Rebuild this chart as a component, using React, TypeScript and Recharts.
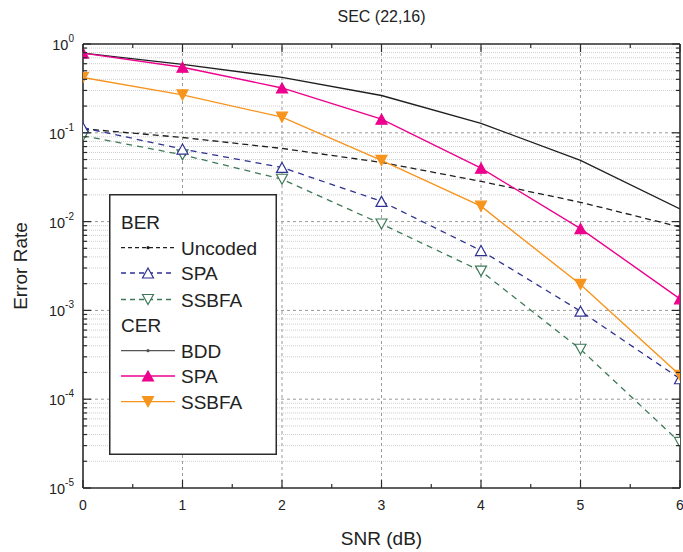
import React from 'react';
import { ComposedChart, Line, XAxis, YAxis, ReferenceLine } from 'recharts';

const snr = [0, 1, 2, 3, 4, 5, 6];
const berUncoded = [0.111, 0.0886, 0.0667, 0.0464, 0.0284, 0.0165, 0.0087];
const berSPA = [0.114, 0.0656, 0.0407, 0.0169, 0.00472, 0.00098, 0.00017];
const berSSBFA = [0.0925, 0.0566, 0.03, 0.0094, 0.00277, 0.000365, 0.0000326];
const cerBDD = [0.79, 0.59, 0.42, 0.263, 0.128, 0.0489, 0.0139];
const cerSPA = [0.79, 0.547, 0.32, 0.1425, 0.04, 0.00834, 0.00135];
const cerSSBFA = [0.42, 0.267, 0.15, 0.0489, 0.0149, 0.00196, 0.000186];

const yMajor = [1e-5, 1e-4, 1e-3, 1e-2, 1e-1, 1];
const yMantissas = [2, 3, 4, 5, 6, 7, 8, 9];
const xMajor = [0, 1, 2, 3, 4, 5, 6];
const xMinor = [0.5, 1.5, 2.5, 3.5, 4.5, 5.5];

const yMinor: number[] = [];
yMajor.slice(0, 5).forEach((d) => yMantissas.forEach((m) => yMinor.push(m * d)));
const yTicks = [...yMajor, ...yMinor].sort((a, b) => a - b);
const xTicks = [...xMajor, ...xMinor].sort((a, b) => a - b);

const rows = snr.map((x, i) => ({
  snr: x,
  berUncoded: berUncoded[i],
  berSPA: berSPA[i],
  berSSBFA: berSSBFA[i],
  cerBDD: cerBDD[i],
  cerSPA: cerSPA[i],
  cerSSBFA: cerSSBFA[i],
}));

const FONT = '"Liberation Sans", Arial, Helvetica, sans-serif';
const AX = '#2b2b2b';
const C_BLUE = '#2E3192';
const C_GREEN = '#3F7A58';
const C_PINK = '#EC008C';
const C_ORANGE = '#F7941D';
const C_BLACK = '#1e1e1e';

const isMajorY = (v: number) => Math.abs(Math.log10(v) - Math.round(Math.log10(v))) < 1e-6;

const LeftTick = (p: any) => {
  const { x, y, payload } = p;
  const v = payload.value;
  const major = isMajorY(v);
  const e = Math.round(Math.log10(v));
  return (
    <g>
      <line x1={x} x2={x + (major ? 8 : 4)} y1={y} y2={y} stroke={AX} strokeWidth={1.2} />
      {major && (
        <text x={x - 9} y={y + 6} textAnchor="end" fontSize={14.5} fill="#222" fontFamily={FONT}>
          10<tspan dy={-8} fontSize={10}>{e}</tspan>
        </text>
      )}
    </g>
  );
};

const RightTick = (p: any) => {
  const { x, y, payload } = p;
  const major = isMajorY(payload.value);
  return <line x1={x} x2={x - (major ? 8 : 4)} y1={y} y2={y} stroke={AX} strokeWidth={1.2} />;
};

const BottomTick = (p: any) => {
  const { x, y, payload } = p;
  const v = payload.value;
  const major = Number.isInteger(v);
  return (
    <g>
      <line x1={x} x2={x} y1={y} y2={y - (major ? 8 : 4)} stroke={AX} strokeWidth={1.2} />
      {major && (
        <text x={x} y={y + 22} textAnchor="middle" fontSize={14} fill="#222" fontFamily={FONT}>
          {v}
        </text>
      )}
    </g>
  );
};

const TopTick = (p: any) => {
  const { x, y, payload } = p;
  const major = Number.isInteger(payload.value);
  return <line x1={x} x2={x} y1={y} y2={y + (major ? 8 : 4)} stroke={AX} strokeWidth={1.2} />;
};

const tri = (up: boolean, cx: number, cy: number) =>
  up
    ? `M${cx},${cy - 5} L${cx + 5.5},${cy + 5} L${cx - 5.5},${cy + 5} Z`
    : `M${cx},${cy + 5} L${cx + 5.5},${cy - 5} L${cx - 5.5},${cy - 5} Z`;

const makeDot = (up: boolean, color: string, filled: boolean) => (p: any) => {
  const { cx, cy, index } = p;
  if (cx == null || cy == null) return <g key={`d${index}`} />;
  return (
    <path
      key={`d${index}`}
      d={tri(up, cx, cy)}
      fill={filled ? color : 'white'}
      stroke={color}
      strokeWidth={1.2}
    />
  );
};

const legendRows = [
  { kind: 'head', label: 'BER', y: 27.5 },
  { kind: 'item', label: 'Uncoded', y: 53.7, color: C_BLACK, dash: '4 3', marker: 'dot' },
  { kind: 'item', label: 'SPA', y: 79, color: C_BLUE, dash: '5 4', marker: 'up-open' },
  { kind: 'item', label: 'SSBFA', y: 105.5, color: C_GREEN, dash: '5 4', marker: 'down-open' },
  { kind: 'head', label: 'CER', y: 131 },
  { kind: 'item', label: 'BDD', y: 156.7, color: '#555', dash: undefined, marker: 'dot' },
  { kind: 'item', label: 'SPA', y: 182, color: C_PINK, dash: undefined, marker: 'up-fill' },
  { kind: 'item', label: 'SSBFA', y: 207.7, color: C_ORANGE, dash: undefined, marker: 'down-fill' },
];

const LegendBox = () => (
  <svg
    width={168}
    height={261}
    style={{ position: 'absolute', left: 109, top: 194, overflow: 'visible' }}
  >
    <rect x={0.75} y={0.75} width={166.5} height={259.5} fill="white" stroke={AX} strokeWidth={1.5} />
    {legendRows.map((r, i) => {
      if (r.kind === 'head') {
        return (
          <text key={i} x={12} y={r.y + 7} fontSize={19} fill="#222" fontFamily={FONT}>
            {r.label}
          </text>
        );
      }
      const c = r.color as string;
      const mx = 39;
      let marker: any = null;
      if (r.marker === 'dot') marker = <circle cx={mx} cy={r.y} r={1.6} fill={c} />;
      if (r.marker === 'up-open') marker = <path d={tri(true, mx, r.y)} fill="white" stroke={c} strokeWidth={1.2} />;
      if (r.marker === 'down-open') marker = <path d={tri(false, mx, r.y)} fill="white" stroke={c} strokeWidth={1.2} />;
      if (r.marker === 'up-fill') marker = <path d={tri(true, mx, r.y)} fill={c} stroke={c} strokeWidth={1.2} />;
      if (r.marker === 'down-fill') marker = <path d={tri(false, mx, r.y)} fill={c} stroke={c} strokeWidth={1.2} />;
      return (
        <g key={i}>
          <line x1={12} x2={66} y1={r.y} y2={r.y} stroke={c} strokeWidth={1.3} strokeDasharray={r.dash} />
          {marker}
          <text x={72} y={r.y + 7} fontSize={19} fill="#222" fontFamily={FONT}>
            {r.label}
          </text>
        </g>
      );
    })}
  </svg>
);

export default function App() {
  return (
    <div
      style={{
        position: 'absolute',
        left: 0,
        top: 0,
        width: 683,
        height: 552,
        background: 'white',
        fontFamily: FONT,
      }}
    >
      <ComposedChart width={683} height={552} data={rows} margin={{ top: 14, right: 0, bottom: 0, left: 0 }}>
        <XAxis
          dataKey="snr"
          type="number"
          domain={[0, 6]}
          ticks={xTicks}
          interval={0}
          height={64}
          tickSize={0}
          tickMargin={0}
          tick={<BottomTick />}
          axisLine={{ stroke: AX, strokeWidth: 1.6 }}
          allowDataOverflow
          label={(props: any) => {
            const vb = props.viewBox || { x: 83, y: 488, width: 597 };
            return (
              <text x={vb.x + vb.width / 2} y={vb.y + 56.5} textAnchor="middle" fontSize={19} fill="#222" fontFamily={FONT}>
                SNR (dB)
              </text>
            );
          }}
        />
        <XAxis
          xAxisId="top"
          orientation="top"
          type="number"
          domain={[0, 6]}
          ticks={xTicks}
          interval={0}
          height={30}
          tickSize={0}
          tickMargin={0}
          tick={<TopTick />}
          axisLine={{ stroke: AX, strokeWidth: 1.6 }}
          allowDataOverflow
        />
        <YAxis
          scale="log"
          type="number"
          domain={[1e-5, 1]}
          ticks={yTicks}
          interval={0}
          width={83}
          tickSize={0}
          tickMargin={0}
          tick={<LeftTick />}
          axisLine={{ stroke: AX, strokeWidth: 1.6 }}
          allowDataOverflow
          label={(props: any) => {
            const vb = props.viewBox || { x: 0, y: 44, height: 444 };
            const cy = vb.y + vb.height / 2;
            return (
              <text x={27} y={cy} textAnchor="middle" fontSize={19} fill="#222" fontFamily={FONT} transform={`rotate(-90 27 ${cy})`}>
                Error Rate
              </text>
            );
          }}
        />
        <YAxis
          yAxisId="r"
          orientation="right"
          scale="log"
          type="number"
          domain={[1e-5, 1]}
          ticks={yTicks}
          interval={0}
          width={3}
          tickSize={0}
          tickMargin={0}
          tick={<RightTick />}
          axisLine={{ stroke: AX, strokeWidth: 1.6 }}
          allowDataOverflow
        />
        {yMinor.map((v) => (
          <ReferenceLine key={`ym${v}`} y={v} stroke="#cfcfcf" strokeWidth={1} strokeDasharray="1 1" />
        ))}
        {yMajor.slice(1, 5).map((v) => (
          <ReferenceLine key={`yM${v}`} y={v} stroke="#9a9a9a" strokeWidth={1} strokeDasharray="3 3" />
        ))}
        {xMajor.slice(1, 6).map((v) => (
          <ReferenceLine key={`xM${v}`} x={v} stroke="#9a9a9a" strokeWidth={1} strokeDasharray="3 3" />
        ))}
        <Line dataKey="berUncoded" stroke={C_BLACK} strokeWidth={1.3} strokeDasharray="6 4" dot={false} isAnimationActive={false} />
        <Line dataKey="cerBDD" stroke={C_BLACK} strokeWidth={1.3} dot={false} isAnimationActive={false} />
        <Line dataKey="berSSBFA" stroke={C_GREEN} strokeWidth={1.3} strokeDasharray="6 5" dot={makeDot(false, C_GREEN, false)} isAnimationActive={false} />
        <Line dataKey="berSPA" stroke={C_BLUE} strokeWidth={1.3} strokeDasharray="6 5" dot={makeDot(true, C_BLUE, false)} isAnimationActive={false} />
        <Line dataKey="cerSSBFA" stroke={C_ORANGE} strokeWidth={1.4} dot={makeDot(false, C_ORANGE, true)} isAnimationActive={false} />
        <Line dataKey="cerSPA" stroke={C_PINK} strokeWidth={1.4} dot={makeDot(true, C_PINK, true)} isAnimationActive={false} />
      </ComposedChart>
      <div
        style={{
          position: 'absolute',
          left: 83,
          top: 5,
          width: 597,
          textAlign: 'center',
          fontSize: 16,
          lineHeight: '24px',
          color: '#222',
          fontFamily: FONT,
        }}
      >
        SEC (22,16)
      </div>
      <LegendBox />
    </div>
  );
}
